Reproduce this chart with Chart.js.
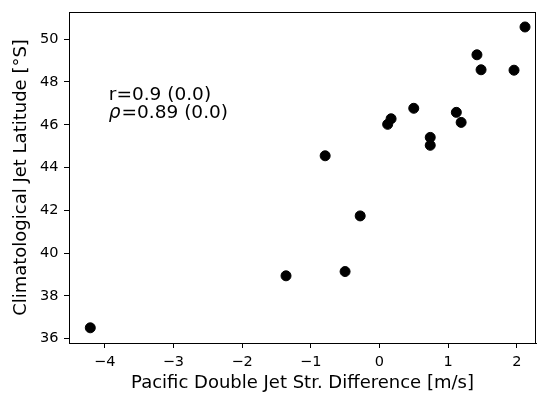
<!DOCTYPE html>
<html>
<head>
<meta charset="utf-8">
<script src="https://cdn.jsdelivr.net/npm/chart.js@4/dist/chart.umd.min.js"></script>
<style>
  html, body { margin: 0; padding: 0; background: #fff; }
  #wrap { width: 537px; height: 394px; }
</style>
</head>
<body>
<div id="wrap"><canvas id="scatterChart"></canvas></div>
<script>
// dados
const jetStrDiff = [-4.21, -1.36, -0.50, -0.28, -0.79, 0.12, 0.17, 0.50, 0.74, 0.74, 1.12, 1.19, 1.42, 1.48, 1.96, 2.12];
const jetLatitude = [36.51, 38.94, 39.14, 41.74, 44.55, 46.02, 46.28, 46.77, 45.41, 45.04, 46.58, 46.11, 49.27, 48.57, 48.55, 50.57];
const xTicks = [-4, -3, -2, -1, 0, 1, 2];
const yTicks = [36, 38, 40, 42, 44, 46, 48, 50];
const statLines = ['r=0.9 (0.0)', '=0.89 (0.0)'];

const points = jetStrDiff.map((x, i) => ({ x: x, y: jetLatitude[i] }));
const fontFamily = "'DejaVu Sans', sans-serif";

// não deixar os rótulos das pontas encolherem a área do gráfico
const noPaddingPlugin = {
    id: 'noPadding',
    beforeLayout(chart) {
        Object.values(chart.scales).forEach(s => {
            s.getPadding = () => ({ left: 0, top: 0, right: 0, bottom: 0 });
        });
    }
};

// caixa em volta da área do gráfico + texto de correlação
const framePlugin = {
    id: 'frame',
    afterDraw(chart) {
        const ctx = chart.ctx;
        const a = chart.chartArea;
        ctx.save();
        ctx.strokeStyle = '#000';
        ctx.lineWidth = 1;
        ctx.strokeRect(a.left + 0.5, a.top + 0.5, a.right - a.left - 1, a.bottom - a.top);

        const xs = chart.scales.x, ys = chart.scales.y;
        const tx = xs.getPixelForValue(-3.94);
        const ty = ys.getPixelForValue(47.15);
        ctx.fillStyle = '#000';
        ctx.textBaseline = 'alphabetic';
        ctx.font = '18.5px ' + fontFamily;
        ctx.fillText(statLines[0], tx, ty);
        ctx.font = 'italic 18.5px ' + fontFamily;
        ctx.fillText('\u03C1', tx, ty + 18);
        const w = ctx.measureText('\u03C1').width;
        ctx.font = '18.5px ' + fontFamily;
        ctx.fillText(statLines[1], tx + w + 1, ty + 18);
        ctx.restore();
    }
};

const minus = v => String(v).replace('-', '\u2212');

new Chart(document.getElementById('scatterChart'), {
    type: 'scatter',
    data: {
        datasets: [{
            data: points,
            backgroundColor: '#000',
            borderColor: '#000',
            pointRadius: 5,
            pointHoverRadius: 5
        }]
    },
    plugins: [noPaddingPlugin, framePlugin],
    options: {
        responsive: true,
        maintainAspectRatio: false,
        animation: false,
        layout: { autoPadding: false, padding: { left: 0, right: 1, top: 12, bottom: 0 } },
        plugins: { legend: { display: false }, tooltip: { enabled: false } },
        scales: {
            x: {
                type: 'linear',
                min: -4.52,
                max: 2.28,
                afterBuildTicks: s => { s.ticks = xTicks.map(v => ({ value: v })); },
                afterFit: s => { s.height = 51; },
                grid: { drawOnChartArea: false, tickLength: 5, tickColor: '#000' },
                border: { color: '#000' },
                ticks: {
                    color: '#000',
                    padding: 6,
                    maxRotation: 0,
                    font: { family: fontFamily, size: 14.5 },
                    callback: v => minus(v)
                },
                title: {
                    display: true,
                    text: 'Pacific Double Jet Str. Difference [m/s]',
                    color: '#000',
                    font: { family: fontFamily, size: 18 },
                    padding: { top: 0, bottom: 0 }
                }
            },
            y: {
                type: 'linear',
                min: 35.8,
                max: 51.27,
                afterBuildTicks: s => { s.ticks = yTicks.map(v => ({ value: v })); },
                afterFit: s => { s.width = 69; },
                grid: { drawOnChartArea: false, tickLength: 5, tickColor: '#000' },
                border: { color: '#000' },
                ticks: {
                    color: '#000',
                    padding: 5.5,
                    font: { family: fontFamily, size: 14.5 }
                },
                title: {
                    display: true,
                    text: 'Climatological Jet Latitude [°S]',
                    color: '#000',
                    font: { family: fontFamily, size: 18 },
                    padding: { top: 11, bottom: 0 }
                }
            }
        }
    }
});
</script>
</body>
</html>
